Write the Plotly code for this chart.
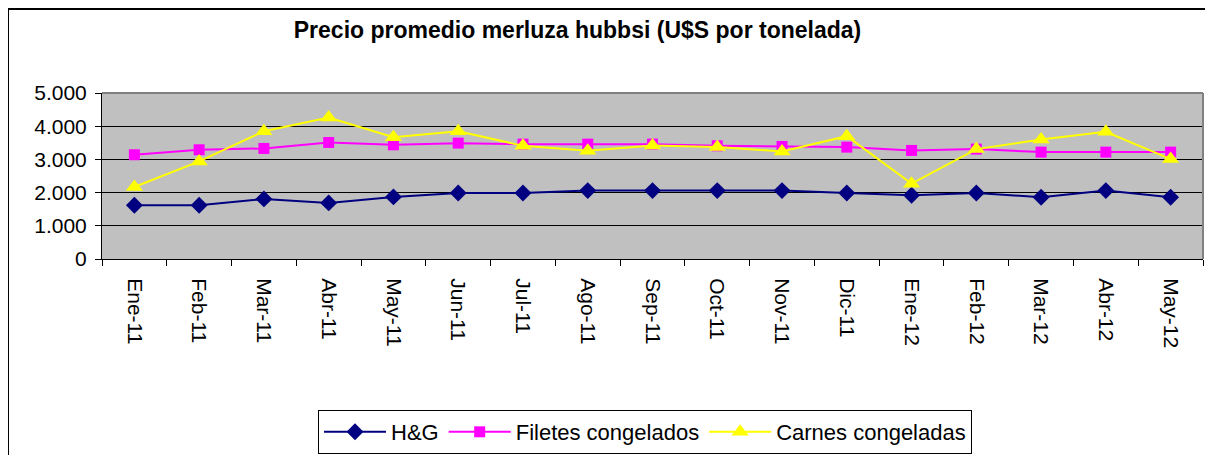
import plotly.graph_objects as go

categories = ["Ene-11", "Feb-11", "Mar-11", "Abr-11", "May-11", "Jun-11", "Jul-11", "Ago-11",
              "Sep-11", "Oct-11", "Nov-11", "Dic-11", "Ene-12", "Feb-12", "Mar-12", "Abr-12", "May-12"]
hg = [1620, 1620, 1810, 1690, 1870, 1990, 1990, 2060, 2060, 2060, 2060, 1990, 1920, 1990, 1860, 2060, 1860]
filetes = [3140, 3290, 3330, 3510, 3440, 3490, 3460, 3460, 3460, 3410, 3390, 3370, 3270, 3310, 3220, 3220, 3220]
carnes = [2170, 2940, 3850, 4260, 3670, 3850, 3410, 3260, 3420, 3370, 3240, 3700, 2270, 3310, 3600, 3830, 3010]
y_ticks = [0, 1000, 2000, 3000, 4000, 5000]

FONT = "Liberation Sans, Arial, sans-serif"
OFF = 8  # default page body margin
W, H = 1213 - OFF, 455 - OFF
# plot area in page pixels: x 102..1203, y 93..259
L = 102 - OFF
T = 93 - OFF
R = W - (1203 - OFF)
B = H - (259 - OFF)
PW, PH = W - L - R, H - T - B


def px_x(px):
    return (px - OFF - L) / PW


def px_y(py):
    return (H - B - (py - OFF)) / PH


fig = go.Figure()
fig.add_trace(go.Scatter(x=categories, y=hg, name="H&G", mode="lines+markers",
                         line=dict(color="#000080", width=2),
                         marker=dict(symbol="diamond", size=13, color="#000080")))
fig.add_trace(go.Scatter(x=categories, y=filetes, name="Filetes congelados", mode="lines+markers",
                         line=dict(color="#FF00FF", width=2),
                         marker=dict(symbol="square", size=11, color="#FF00FF")))
fig.add_trace(go.Scatter(x=categories, y=carnes, name="Carnes congeladas", mode="lines+markers",
                         line=dict(color="#FFFF00", width=2),
                         marker=dict(symbol="triangle-up", size=15, color="#FFFF00")))

fig.update_layout(
    width=W, height=H,
    margin=dict(l=L, r=R, t=T, b=B, autoexpand=False),
    paper_bgcolor="white",
    plot_bgcolor="#C0C0C0",
    separators=",.",
    font=dict(family=FONT, size=21, color="black"),
    title=dict(text="<b>Precio promedio merluza hubbsi (U$S por tonelada)</b>",
               x=(577.5 - OFF) / W, xref="container", xanchor="center",
               y=1 - (30 - OFF) / H, yref="container", yanchor="middle",
               font=dict(family=FONT, size=23, color="black")),
    showlegend=True,
    legend=dict(orientation="h", x=px_x(318), xanchor="left", y=px_y(410), yanchor="top",
                bordercolor="black", borderwidth=1, bgcolor="white",
                font=dict(family=FONT, size=22, color="black"),
                itemwidth=62, tracegroupgap=0),
    xaxis=dict(type="category", showgrid=False, showline=True, linecolor="black", linewidth=1,
               ticks="outside", tickson="boundaries", ticklen=6, tickcolor="black",
               tickangle=90, automargin=False, ticklabelstandoff=14,
               tickfont=dict(family=FONT, size=21, color="black"),
               range=[-0.5, len(categories) - 0.5], fixedrange=True),
    yaxis=dict(range=[0, 5000], tickvals=y_ticks, tickformat=",d",
               showgrid=True, gridcolor="black", gridwidth=1,
               showline=True, linecolor="black", linewidth=1,
               ticks="outside", ticklen=6, tickcolor="black", automargin=False,
               zeroline=False, ticklabelstandoff=4,
               tickfont=dict(family=FONT, size=21, color="black")),
    shapes=[
        dict(type="line", xref="paper", yref="paper", x0=0, x1=1, y0=1, y1=1,
             line=dict(color="#808080", width=2)),
        dict(type="line", xref="paper", yref="paper", x0=1, x1=1, y0=0, y1=1,
             line=dict(color="#808080", width=2)),
        dict(type="rect", xref="paper", yref="paper",
             x0=px_x(8), x1=px_x(1225), y0=px_y(470), y1=px_y(9),
             line=dict(color="black", width=2), fillcolor="rgba(0,0,0,0)", layer="above"),
    ],
)

fig.write_html("out.html")
